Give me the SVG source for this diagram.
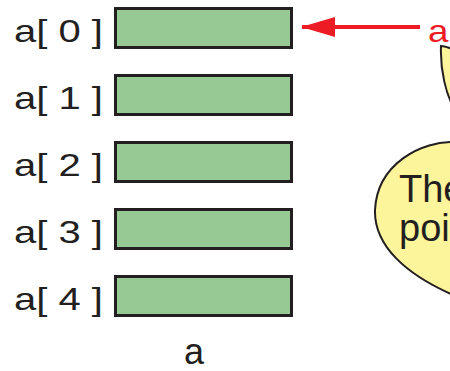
<svg xmlns="http://www.w3.org/2000/svg" width="450" height="371" viewBox="0 0 450 371">
<defs>
<style>
.cell{fill:#97c994;stroke:#231f20;stroke-width:3}
.lbl{font-family:"Liberation Sans",Arial,sans-serif;font-size:32px;fill:#231f20}
.red{font-family:"Liberation Sans",Arial,sans-serif;font-size:32px;fill:#ed1c24}
.bub{fill:#fdf59c;stroke:#231f20;stroke-width:2}
</style>
<marker id="ah" viewBox="0 0 34 20" refX="33" refY="10" markerWidth="34" markerHeight="20" markerUnits="userSpaceOnUse" orient="auto">
<path d="M0,0 L34,10 L0,20 Z" fill="#ed1c24"/>
</marker>
</defs>
<g id="cell0"><rect class="cell" x="115.5" y="8.5" width="176" height="39"/><text class="lbl" transform="translate(14,42) scale(1.25,1)">a[ 0 ]</text></g>
<g id="cell1"><rect class="cell" x="115.5" y="75.5" width="176" height="39"/><text class="lbl" transform="translate(14,109) scale(1.25,1)">a[ 1 ]</text></g>
<g id="cell2"><rect class="cell" x="115.5" y="142.5" width="176" height="39"/><text class="lbl" transform="translate(14,176) scale(1.25,1)">a[ 2 ]</text></g>
<g id="cell3"><rect class="cell" x="115.5" y="209.5" width="176" height="39"/><text class="lbl" transform="translate(14,243) scale(1.25,1)">a[ 3 ]</text></g>
<g id="cell4"><rect class="cell" x="115.5" y="276.5" width="176" height="39"/><text class="lbl" transform="translate(14,310) scale(1.25,1)">a[ 4 ]</text></g>
<g id="arrayName"><text class="lbl" x="194" y="364" text-anchor="middle" style="font-size:36px">a</text></g>
<g id="pointer"><text class="red" transform="translate(428,42) scale(1.15,1)">a</text></g>
<g id="bubble">
<path class="bub" d="M441,46 C440,70 446,95 455,110 L455,50 C450,48 445,46 441,46 Z"/>
<path class="bub" d="M458,142 C420,140 377,165 375,210 C374,245 405,275 458,297 Z"/>
<text class="lbl" x="399" y="202" style="font-size:38px">The</text>
<text class="lbl" x="399" y="241" style="font-size:38px">poi</text>
</g>
<g id="connectors">
<line x1="420" y1="27" x2="302" y2="27" stroke="#ed1c24" stroke-width="4" marker-end="url(#ah)"/>
</g>
</svg>
